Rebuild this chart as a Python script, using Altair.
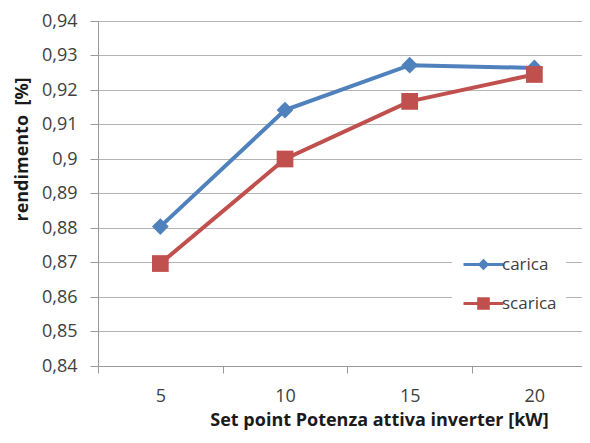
import altair as alt
import pandas as pd

# ---- data ----
set_points = [5, 10, 15, 20]
carica = [0.8804, 0.9142, 0.9272, 0.9264]
scarica = [0.8697, 0.9000, 0.9167, 0.9245]
series = ["carica", "scarica"]
colors = ["#4F81BD", "#C0504D"]
y_ticks = [0.84, 0.85, 0.86, 0.87, 0.88, 0.89, 0.90, 0.91, 0.92, 0.93, 0.94]
x_ticks = [2.5, 5, 7.5, 10, 12.5, 15, 17.5, 20]
x_title = "Set point Potenza attiva inverter [kW]"
y_title = "rendimento\u00a0 [%]"

rows = []
for name, vals in zip(series, [carica, scarica]):
    for p, v in zip(set_points, vals):
        rows.append({"p": p, "serie": name, "r": v})
df = pd.DataFrame(rows)

FONT = "Open Sans"
GRID = "#b4b4b4"
AXIS = "#9a9a9a"

x_enc = alt.X(
    "p:Q",
    scale=alt.Scale(domain=[2.5, 21.91], nice=False, zero=False),
    axis=alt.Axis(
        values=x_ticks,
        labelExpr="datum.value % 5 === 0 ? datum.label : ''",
        labelOverlap=False,
        labelFlush=False,
        labelFont=FONT,
        labelFontSize=18,
        labelColor="#404040",
        labelPadding=14,
        tickSize=7,
        tickColor=AXIS,
        tickOpacity={"condition": {"test": "datum.value % 5 !== 0", "value": 1}, "value": 0},
        domainColor=AXIS,
        grid=False,
        title=x_title,
        titleFont=FONT,
        titleFontSize=18,
        titleFontWeight="bold",
        titleColor="#1a1a1a",
        titleX=281,
        titleY=59,
        titleAlign="center",
        titleBaseline="alphabetic",
    ),
)

y_enc = alt.Y(
    "r:Q",
    scale=alt.Scale(domain=[0.84, 0.94], nice=False, zero=False),
    axis=alt.Axis(
        values=y_ticks,
        labelExpr="replace(format(datum.value, '.2~f'), '.', ',')",
        labelFont=FONT,
        labelFontSize=18,
        labelColor="#404040",
        labelPadding=13,
        tickSize=8,
        tickColor=AXIS,
        domainColor=AXIS,
        grid=True,
        gridColor=GRID,
        gridWidth=1,
        title=y_title,
        titleFont=FONT,
        titleFontSize=18,
        titleFontWeight="bold",
        titleColor="#1a1a1a",
        titleAngle=270,
        titleX=-76,
        titleY=128,
        titleAlign="center",
        titleBaseline="middle",
    ),
)

color_scale = alt.Scale(domain=series, range=colors)

base = alt.Chart(df)

line = base.mark_line(strokeWidth=4).encode(
    x=x_enc, y=y_enc,
    color=alt.Color("serie:N", scale=color_scale, legend=None),
)

points = base.mark_point(filled=True, size=280, opacity=1).encode(
    x=x_enc, y=y_enc,
    color=alt.Color("serie:N", scale=color_scale, legend=None),
    shape=alt.Shape("serie:N", scale=alt.Scale(domain=series, range=["diamond", "square"]), legend=None),
)

legend_paths = [
    "M-3.33,0H3.33M0,-0.6L0.6,0L0,0.6L-0.6,0Z",
    "M-3.33,0H3.33M-0.8,-0.8H0.8V0.8H-0.8Z",
]
leg = alt.Legend(
    orient="none",
    legendX=354,
    legendY=226,
    title=None,
    fillColor="white",
    padding=9,
    symbolSize=144,
    symbolStrokeWidth=3,
    symbolOffset=14,
    labelOffset=10,
    labelFont=FONT,
    labelFontSize=17,
    labelColor="#404040",
    rowPadding=17,
)

legend_layer = base.transform_filter("false").mark_point(
    filled=True, size=144, strokeWidth=3, opacity=1
).encode(
    x=x_enc, y=y_enc,
    fill=alt.Fill("serie:N", scale=alt.Scale(domain=series, range=colors), legend=leg),
    stroke=alt.Stroke("serie:N", scale=alt.Scale(domain=series, range=colors), legend=leg),
    shape=alt.Shape("serie:N", scale=alt.Scale(domain=series, range=legend_paths), legend=leg),
)

chart = (
    alt.layer(legend_layer, line, points)
    .resolve_scale(color="independent", shape="independent", fill="independent", stroke="independent")
    .properties(
        width=484,
        height=345,
        autosize=alt.AutoSizeParams(type="none"),
        padding={"left": 90, "top": 13, "right": 0, "bottom": 66},
        background="white",
    )
    .configure_view(stroke=None)
)

chart.save("out.html", embed_options={"renderer": "svg", "actions": False})
